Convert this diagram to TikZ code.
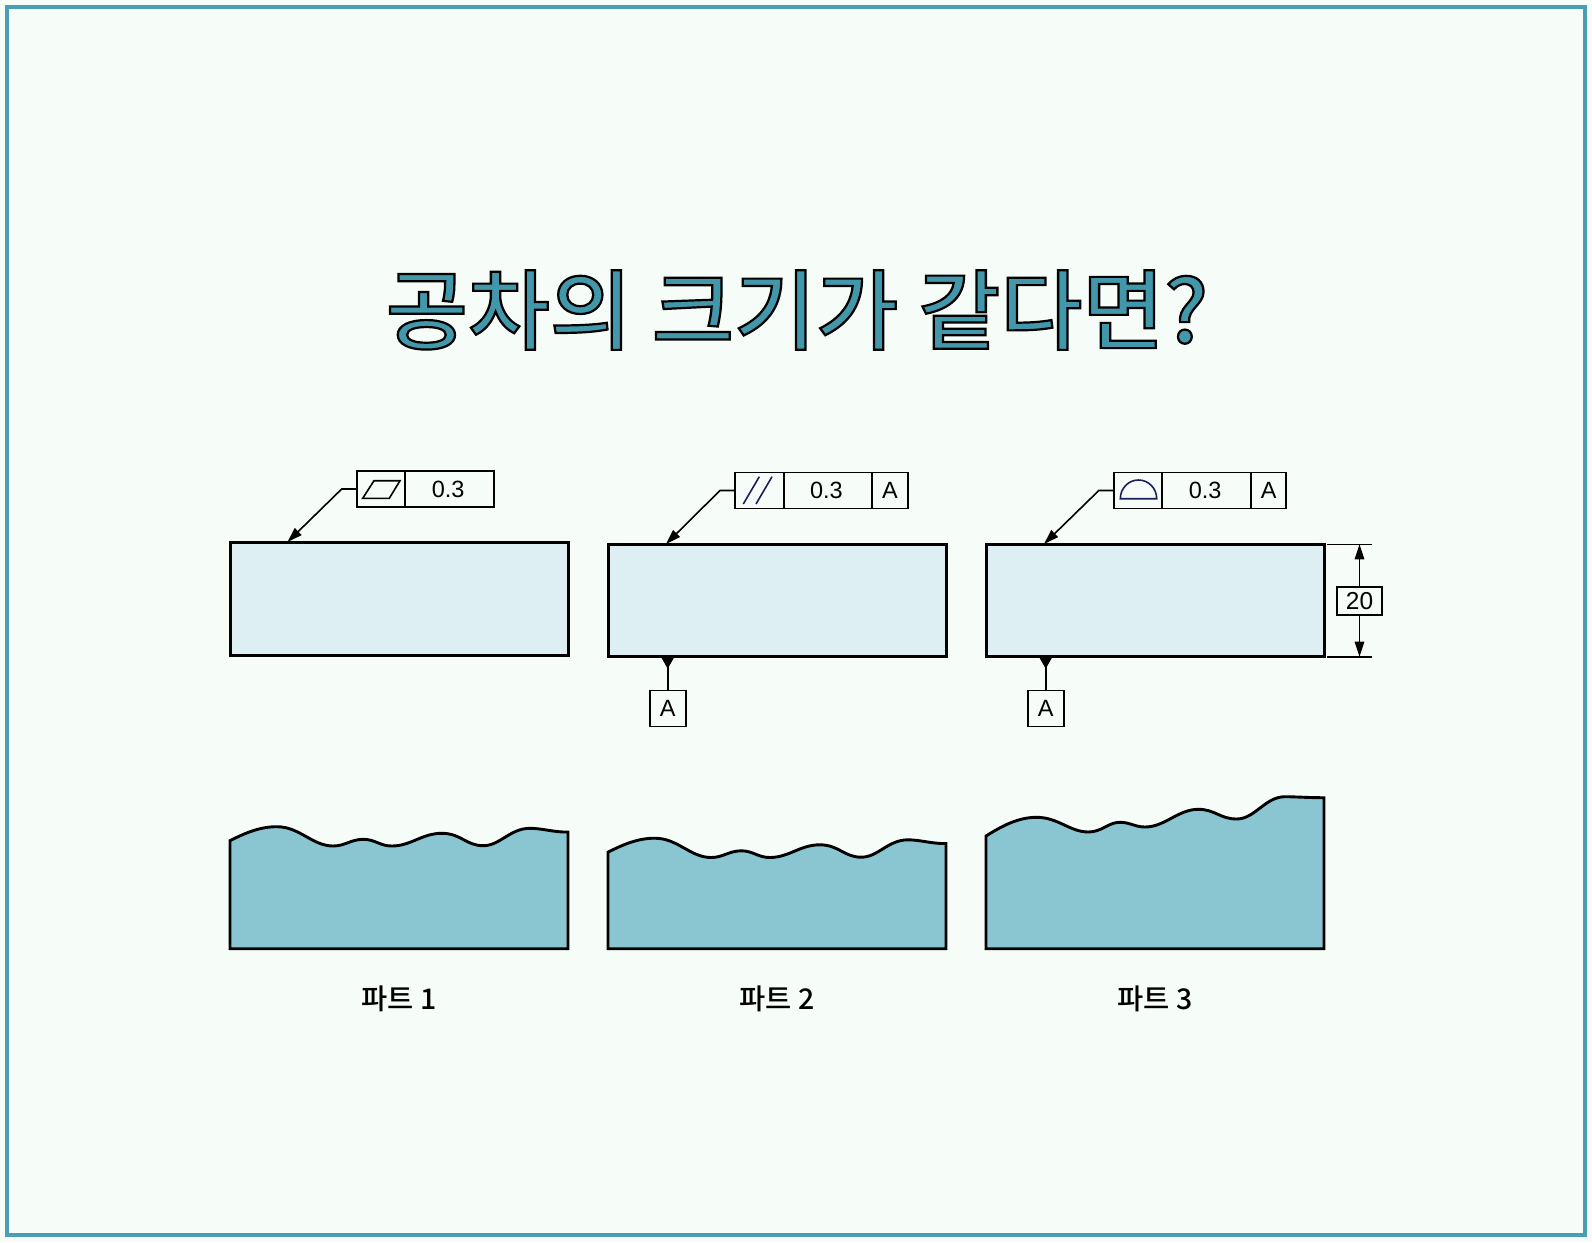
\documentclass[tikz,border=0pt]{standalone}
\usepackage{fontspec}
\usepackage{graphicx}
\usetikzlibrary{arrows.meta,calc}
\setmainfont{Liberation Sans}
\newfontfamily\krfont{Noto Sans CJK KR Medium}
\definecolor{pagebg}{HTML}{F6FDF9}
\definecolor{framecol}{HTML}{4A9DB3}
\definecolor{blockcol}{HTML}{DEEFF3}
\definecolor{wavecol}{HTML}{8AC6D1}
\definecolor{titlecol}{HTML}{4297AB}
\definecolor{symcol}{HTML}{1A1F5C}
\tikzset{
  x=1pt,y=-1pt,
  block/.style={fill=blockcol,anchor=north west,inner sep=0pt,outer sep=0pt,minimum width=338pt},
  blockedge/.style={draw=black,line width=3pt},
  wave/.style={draw=black,fill=wavecol,line width=2.9pt,line join=miter},
  cell/.style={draw=black,fill=pagebg,line width=1.8pt,anchor=north west,inner sep=0pt,outer sep=0pt,minimum height=36pt,font=\fontsize{23.5pt}{25pt}\selectfont},
  leader/.style={draw=black,line width=1.6pt,-{Triangle[length=15pt,width=9.5pt]}},
  plainline/.style={draw=black,line width=1.6pt},
  sym/.style={draw=symcol,line width=1.6pt},
  partlabel/.style={font=\krfont\fontsize{28.5pt}{30pt}\selectfont,inner sep=0pt},
}
\newcommand{\waveone}{(230,840.7) .. controls (245,833) and (260,826.7) .. (276.7,826.7)
 .. controls (300,826.7) and (312,846) .. (333.3,846)
 .. controls (345,846) and (351,839.3) .. (363.3,839.3)
 .. controls (375,839.3) and (380,846) .. (391.7,846)
 .. controls (411,846) and (422,833.3) .. (441.7,833.3)
 .. controls (461,833.3) and (466,845.7) .. (483.3,845.7)
 .. controls (500,845.7) and (510,828.3) .. (530,828.3)
 .. controls (542,828.3) and (555,832.5) .. (568,832)}
\begin{document}
\begin{tikzpicture}
\useasboundingbox (0,0) rectangle (1592,1242);
\fill[pagebg] (0,0) rectangle (1592,1242);
\draw[framecol,line width=4pt] (7,7) rectangle (1585,1235);

% title
\node[inner sep=0pt] (title) at (797,310) {\scalebox{1.025}[1]{\krfont\fontsize{87pt}{90pt}\selectfont\color{titlecol}\special{pdf:code q 2 Tr 2.2 w 0 0 0 RG}공차의 크기가 같다면?\special{pdf:code Q}}};

% blocks
\node[block,minimum height=113pt] (b1) at (230,542) {};
\node[block,minimum height=112.5pt] (b2) at (608,544) {};
\node[block,minimum height=112.5pt] (b3) at (986,544) {};
\draw[blockedge] (b1.north west) rectangle (b1.south east);
\draw[blockedge] (b2.north west) rectangle (b2.south east);
\draw[blockedge] (b3.north west) rectangle (b3.south east);

% feature control frame 1
\node[cell,minimum width=48.6pt] (f1a) at (356.7,471) {};
\node[cell,minimum width=88.7pt] (f1b) at (405.3,471) {\hspace{-3pt}0.3};
\draw[sym,draw=black] (362.7,498.3) -- (389.3,498.3) -- (400,480.7) -- (374,480.7) -- cycle;
\coordinate (t1) at (287.5,542);
\draw[leader] (f1a.west) -- ++(-15,0) -- (t1);

% feature control frame 2
\node[cell,minimum width=48.7pt] (f2a) at (735,472.5) {};
\node[cell,minimum width=88.3pt] (f2b) at (783.7,472.5) {\hspace{-3pt}0.3};
\node[cell,minimum width=35.7pt] (f2c) at (872,472.5) {A};
\draw[sym] (743.3,504) -- (759.3,476.7);
\draw[sym] (756,504) -- (772,476.7);
\coordinate (t2) at (666,544);
\draw[leader] (f2a.west) -- ++(-15,0) -- (t2);

% feature control frame 3
\node[cell,minimum width=48.5pt] (f3a) at (1113.8,472.5) {};
\node[cell,minimum width=88.7pt] (f3b) at (1162.3,472.5) {\hspace{-3pt}0.3};
\node[cell,minimum width=35.3pt] (f3c) at (1251,472.5) {A};
\draw[sym] (1120.3,498.7) -- (1156.7,498.7) arc[start angle=0,end angle=-180,x radius=18.2,y radius=18.7] -- cycle;
\coordinate (t3) at (1044,544);
\draw[leader] (f3a.west) -- ++(-15,0) -- (t3);

% datums
\node[cell,minimum width=36pt,anchor=north] (d2) at (667.7,690.5) {A};
\coordinate (d2t) at (667.7,656.7);
\draw[plainline] (d2.north) -- (d2t);
\fill[black] ($(d2t)+(-6.8,0)$) -- ($(d2t)+(6.8,0)$) -- ($(d2t)+(0,12)$) -- cycle;
\node[cell,minimum width=36pt,anchor=north] (d3) at (1045.7,690.5) {A};
\coordinate (d3t) at (1045.7,656.7);
\draw[plainline] (d3.north) -- (d3t);
\fill[black] ($(d3t)+(-6.8,0)$) -- ($(d3t)+(6.8,0)$) -- ($(d3t)+(0,12)$) -- cycle;

% dimension
\coordinate (e1a) at (1327.3,544.3);
\coordinate (e1b) at (1372.3,544.3);
\coordinate (e2a) at (1327.3,656.7);
\coordinate (e2b) at (1372.3,656.7);
\draw[plainline] (e1a) -- (e1b);
\draw[plainline] (e2a) -- (e2b);
\node[cell,minimum width=45.6pt,minimum height=28.6pt,anchor=center,font=\fontsize{24.5pt}{26pt}\selectfont] (dim) at (1359.5,601) {20};
\draw[leader] (dim.north) -- (dim.north |- e1a);
\draw[leader] (dim.south) -- (dim.south |- e2a);

% wavy parts
\draw[wave] \waveone -- (568,948.7) -- (230,948.7) -- cycle;
\begin{scope}[xshift=378pt,yshift=-11.5pt]
\draw[wave] \waveone -- (568,937.2) -- (230,937.2) -- cycle;
\end{scope}
\draw[wave] (986,836) .. controls (1002,826) and (1018,817.3) .. (1036.7,817.3)
 .. controls (1058,817.3) and (1070,832) .. (1088.3,832)
 .. controls (1102,832) and (1108,822.3) .. (1120,822.3)
 .. controls (1130,822.3) and (1135,827) .. (1145,827)
 .. controls (1165,827) and (1178,809.3) .. (1198.3,809.3)
 .. controls (1215,809.3) and (1220,819) .. (1236.7,819)
 .. controls (1255,819) and (1265,796.7) .. (1285,796.7)
 .. controls (1295,796.7) and (1310,797.8) .. (1324,797.7)
 -- (1324,948.7) -- (986,948.7) -- cycle;

% labels
\node[partlabel] (l1) at (399,999) {파트 1};
\node[partlabel] (l2) at (777,999) {파트 2};
\node[partlabel] (l3) at (1155,999) {파트 3};
\end{tikzpicture}
\end{document}
